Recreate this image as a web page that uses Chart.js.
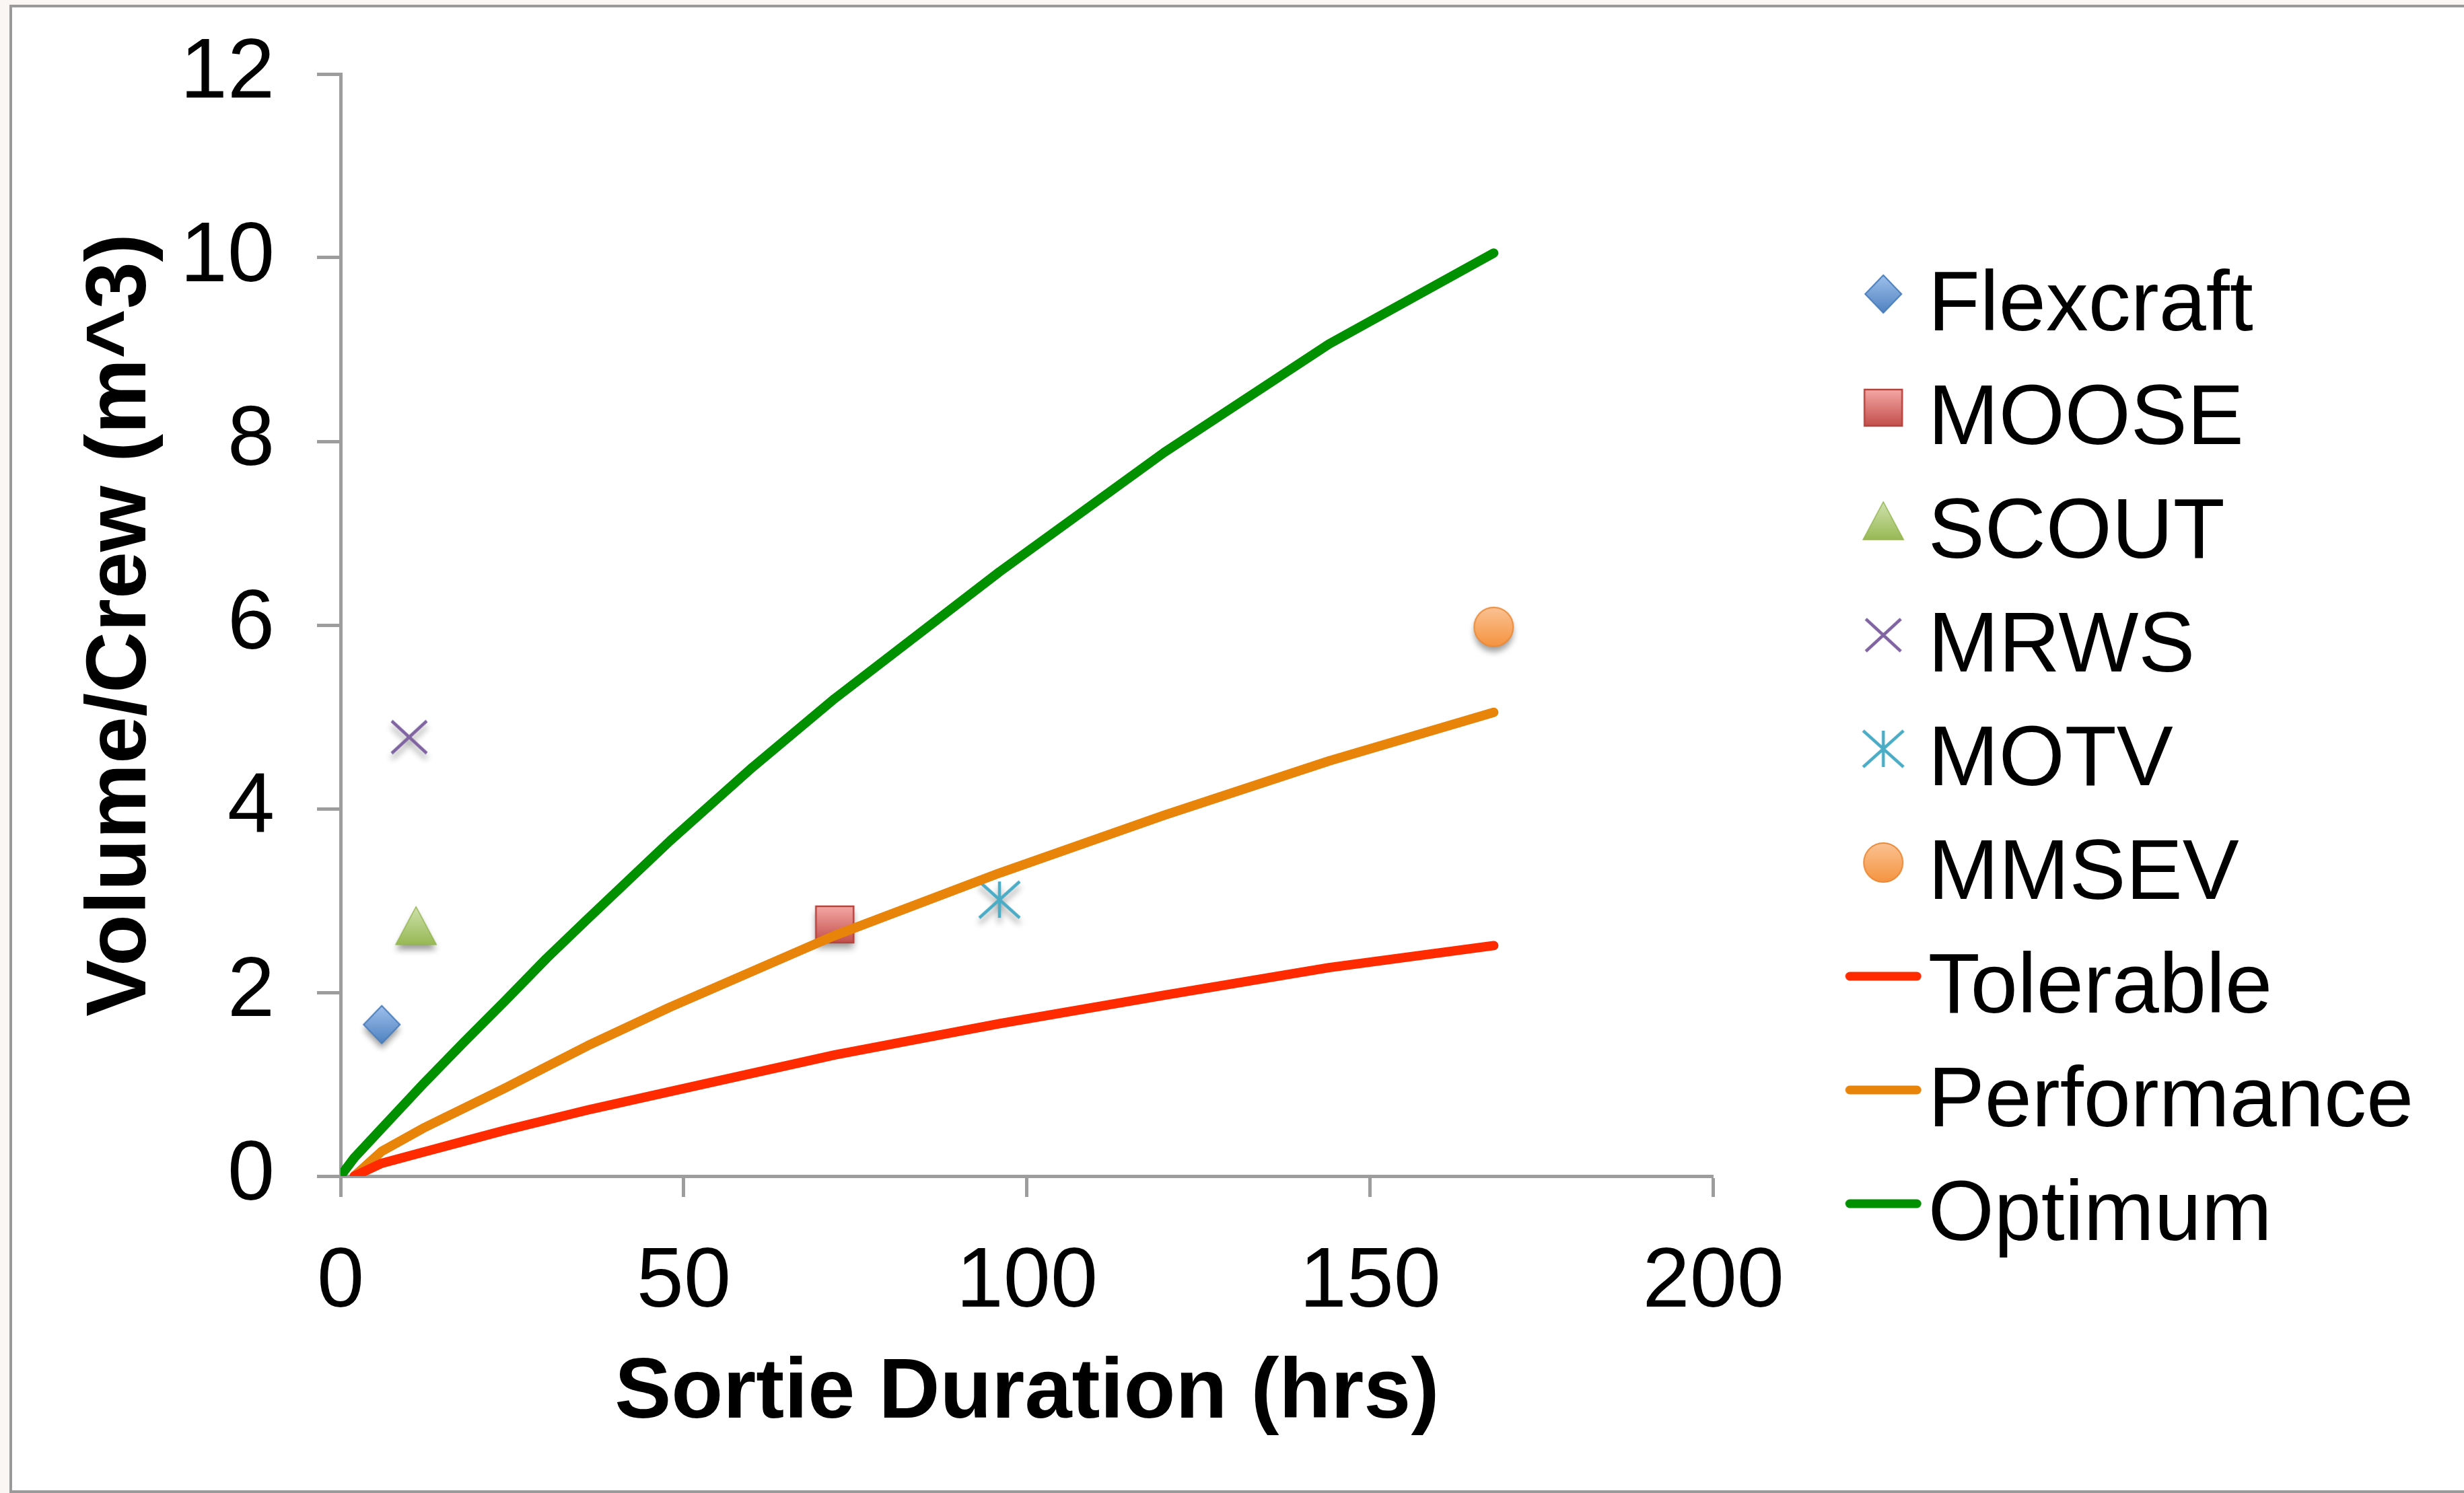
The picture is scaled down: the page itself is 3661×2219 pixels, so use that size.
<!DOCTYPE html>
<html><head><meta charset="utf-8">
<script src="https://cdn.jsdelivr.net/npm/chart.js@4.4.1/dist/chart.umd.min.js"></script>
<style>
html,body{margin:0;padding:0;background:#faf6f4;overflow:hidden;width:3661px;height:2219px;}
#frame{position:absolute;left:14px;top:7px;width:3700px;height:2212px;border:4px solid #9a9a9a;border-right:none;background:#fff;box-sizing:border-box;}
#c{position:absolute;left:0;top:0;}
</style></head><body>
<div id="frame"></div>
<canvas id="c" width="3661" height="2219"></canvas>
<script>
// ---- data ----
const seriesNames = ['Flexcraft','MOOSE','SCOUT','MRWS','MOTV','MMSEV','Tolerable','Performance','Optimum'];
const vehicleHours  = [6, 72, 11, 10, 96, 168];
const vehicleVolume = [1.65, 2.74, 2.72, 4.78, 3.01, 5.98];
const hours       = [0, 2, 6, 12, 18, 24, 30, 36, 48, 60, 72, 96, 120, 144, 168];
const tolerable   = [null, 0, 0.14, 0.26, 0.38, 0.5, 0.61, 0.72, 0.92, 1.12, 1.32, 1.66, 1.97, 2.27, 2.51];
const performance = [null, 0, 0.27, 0.52, 0.74, 0.96, 1.19, 1.42, 1.84, 2.23, 2.62, 3.3, 3.93, 4.52, 5.05];
const optimum     = [0, 0.2, 0.52, 1.0, 1.46, 1.91, 2.37, 2.8, 3.65, 4.45, 5.2, 6.58, 7.88, 9.06, 10.05];
const xTicks = [0, 50, 100, 150, 200];
const yTicks = [0, 2, 4, 6, 8, 10, 12];

const FONT = '"Liberation Sans", Arial, Helvetica, sans-serif';
const AXIS = '#9d9d9d';

// ---- marker images ----
const markerKinds = ['diamond','square','triangle','cross','star','circle'];
function grad(ctx, top, bot, y0, y1) {
  const g = ctx.createLinearGradient(0, y0, 0, y1);
  g.addColorStop(0, top); g.addColorStop(1, bot); return g;
}
function drawShape(ctx, kind) {
  ctx.lineJoin = 'miter';
  if (kind === 'diamond') {
    ctx.beginPath(); ctx.moveTo(0,-28); ctx.lineTo(27,0); ctx.lineTo(0,28); ctx.lineTo(-27,0); ctx.closePath();
    ctx.fillStyle = grad(ctx,'#9fc0ec','#4f82c0',-28,28); ctx.fill();
    ctx.shadowColor='transparent'; ctx.strokeStyle='#4a7ebb'; ctx.lineWidth=2; ctx.stroke();
  } else if (kind === 'square') {
    ctx.beginPath(); ctx.rect(-28,-27,56,54);
    ctx.fillStyle = grad(ctx,'#f5a7a5','#c24f4b',-27,27); ctx.fill();
    ctx.shadowColor='transparent'; ctx.strokeStyle='#b4443f'; ctx.lineWidth=2.5; ctx.stroke();
  } else if (kind === 'triangle') {
    ctx.beginPath(); ctx.moveTo(0,-29); ctx.lineTo(30,27); ctx.lineTo(-30,27); ctx.closePath();
    ctx.fillStyle = grad(ctx,'#cfe2ad','#98b955',-29,27); ctx.fill();
    ctx.shadowColor='transparent'; ctx.strokeStyle='#93b451'; ctx.lineWidth=1.5; ctx.stroke();
  } else if (kind === 'cross') {
    ctx.strokeStyle='#8064a2'; ctx.lineWidth=4.5; ctx.lineCap='butt';
    ctx.beginPath(); ctx.moveTo(-26,-24); ctx.lineTo(26,24); ctx.moveTo(-26,24); ctx.lineTo(26,-24); ctx.stroke();
  } else if (kind === 'star') {
    ctx.strokeStyle='#4bacc6'; ctx.lineWidth=4.5; ctx.lineCap='butt';
    ctx.beginPath(); ctx.moveTo(0,-27); ctx.lineTo(0,27);
    ctx.moveTo(-30,-27); ctx.lineTo(30,27); ctx.moveTo(-30,27); ctx.lineTo(30,-27); ctx.stroke();
  } else if (kind === 'circle') {
    ctx.beginPath(); ctx.arc(0,0,29,0,Math.PI*2);
    ctx.fillStyle = grad(ctx,'#fbc293','#f59441',-29,29); ctx.fill();
    ctx.shadowColor='transparent'; ctx.strokeStyle='#ea8a38'; ctx.lineWidth=2; ctx.stroke();
  }
}
function makeMarker(kind, legend) {
  const dx = legend ? 103 : 0, dy = legend ? -19 : 0, half = 50;
  const c = document.createElement('canvas');
  c.width = 2*(Math.abs(dx)+half); c.height = 2*(Math.abs(dy)+half);
  const ctx = c.getContext('2d');
  ctx.translate(c.width/2+dx, c.height/2+dy);
  if (!legend) { ctx.shadowColor='rgba(0,0,0,0.38)'; ctx.shadowBlur=10; ctx.shadowOffsetY=8; }
  drawShape(ctx, kind);
  return c;
}
function makeLegendLine(color) {
  const dx = 103, dy = -19, half = 64;
  const c = document.createElement('canvas');
  c.width = 2*(dx+half); c.height = 2*(Math.abs(dy)+20);
  const ctx = c.getContext('2d');
  ctx.translate(c.width/2+dx, c.height/2+dy);
  ctx.strokeStyle=color; ctx.lineWidth=13; ctx.lineCap='round';
  ctx.beginPath(); ctx.moveTo(-50,0); ctx.lineTo(50,0); ctx.stroke();
  return c;
}
const lineColors = ['#ff2a00','#e8840a','#009000'];
const plotStyles = markerKinds.map(k => makeMarker(k,false));
const legendStyles = markerKinds.map(k => makeMarker(k,true)).concat(lineColors.map(makeLegendLine));

// ---- datasets ----
const datasets = [];
markerKinds.forEach((k,i) => {
  datasets.push({
    label: seriesNames[i], type: 'scatter', order: 1,
    data: [{x: vehicleHours[i], y: vehicleVolume[i]}],
    pointStyle: plotStyles[i], pointRadius: 20, pointHoverRadius: 20, showLine: false
  });
});
[tolerable, performance, optimum].forEach((vals, j) => {
  datasets.push({
    label: seriesNames[6+j], type: 'line', order: 0,
    data: hours.map((h,i) => ({x: h, y: vals[i]})).filter(p => p.y !== null),
    borderColor: lineColors[j], backgroundColor: lineColors[j], borderWidth: 14,
    borderCapStyle: 'round', borderJoinStyle: 'round', tension: 0, pointRadius: 0, fill: false
  });
});

const tickFont = {family: FONT, size: 126};
const titleFont = {family: FONT, size: 126, weight: 'bold'};

new Chart(document.getElementById('c'), {
  type: 'scatter',
  data: { datasets },
  options: {
    responsive: false, animation: false, devicePixelRatio: 1,
    layout: { padding: {top: 110, bottom: 65, left: 40, right: 65} },
    plugins: {
      tooltip: {enabled: false},
      legend: {
        position: 'right', maxWidth: 1200,
        labels: {
          usePointStyle: true, pointStyleWidth: 213, padding: 43, color: '#000', font: tickFont,
          generateLabels(chart) {
            return chart.data.datasets.map((ds, i) => ({
              text: ds.label, pointStyle: legendStyles[i], fillStyle: 'rgba(0,0,0,0)',
              strokeStyle: 'rgba(0,0,0,0)', lineWidth: 0, hidden: false, datasetIndex: i, fontColor: '#000'
            }));
          }
        }
      }
    },
    scales: {
      x: {
        type: 'linear', min: 0, max: 200,
        afterBuildTicks(s) { s.ticks = xTicks.map(v => ({value: v})); },
        afterFit(s) { s.height = 406; s.paddingLeft = 0; s.paddingRight = 0; },
        ticks: { font: tickFont, color: '#000', padding: 53, maxRotation: 0 },
        grid: { drawOnChartArea: false, drawTicks: true, tickLength: 31, tickWidth: 5, tickColor: AXIS },
        border: { display: true, color: AXIS, width: 5 },
        title: { display: true, text: 'Sortie Duration (hrs)', font: titleFont, color: '#000', padding: {top: 0, bottom: 6} }
      },
      y: {
        type: 'linear', min: 0, max: 12,
        afterBuildTicks(s) { s.ticks = yTicks.map(v => ({value: v})); },
        afterFit(s) { s.width = 466; s.paddingTop = 0; s.paddingBottom = 0; },
        ticks: { font: tickFont, color: '#000', padding: 63 },
        grid: { drawOnChartArea: false, drawTicks: true, tickLength: 35, tickWidth: 5, tickColor: AXIS },
        border: { display: true, color: AXIS, width: 5 },
        title: { display: true, text: 'Volume/Crew (m^3)', font: titleFont, color: '#000', padding: {top: 66, bottom: 0} }
      }
    }
  }
});
</script></body></html>
